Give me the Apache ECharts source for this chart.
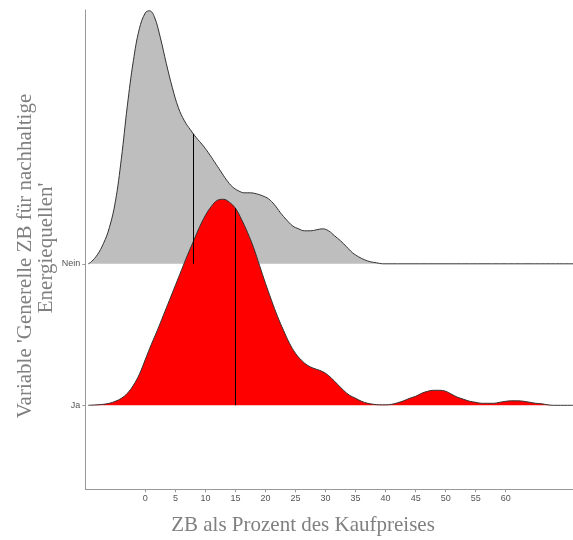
<!DOCTYPE html>
<html>
<head>
<meta charset="utf-8">
<script src="https://cdn.jsdelivr.net/npm/echarts@6/dist/echarts.min.js"></script>
<style>html,body{margin:0;padding:0;background:#fff}#c{width:573px;height:540px}</style>
</head>
<body>
<div id="c"></div>
<script>
// Categories (bottom to top)
const categories = ['Ja', 'Nein'];
// x tick labels
const xTicks = [0,5,10,15,20,25,30,35,40,45,50,55,60];
// Density ridge for "Nein" : x positions and heights (in row-spacing units * 141.5)
const neinX = [-9.5,-9,-8,-7,-6,-5,-4,-3,-2,-1,0,0.7,1.5,2.5,3.5,4.5,5.5,6.5,7.5,8.5,9.5,10.5,11.5,12.5,13.5,14.5,15.5,16.5,17.5,18.5,19.5,20.5,21.5,22.5,23.5,24.5,25.5,26.5,27.5,28.5,29.5,30.5,31.5,32.5,33.5,34.5,35.5,36.5,37.5,38.5,39.5,71.5];
const neinH = [0,2,9,20,36,62,105,158,203,235,251,253,247,226,200,176,156,143,134,126,119,111,102,93,84,77,73,71,71,70,68,65,59,51,44,38,35,33,33,34,35,33,28,23,17,11,7,4,2,1,0,0];
// Density ridge for "Ja"
const jaX = [-9.5,-8,-7,-6,-5,-4,-3,-2,-1,0,1,2,3,4,5,6,7,8,9,10,11,12,13,14,15,16,17,18,19,20,21,22,23,24,25,26,27,28,29,30,31,32,33,34,35,36,37,38,39,40,41,42,43,44,45,46,47,48,49,50,51,52,53,54,55,56,57,58,59,60,61,62,63,64,65,66,67,68,71.5];
const jaH = [0,0.5,1,2,4,7,12,20,31,46,61,75,90,105,120,135,150,164,178,190,199,205,206,203,197,186,173,158,140,122,105,89,75,62,52,45,40,37,35,32,27,21,15,10,7,4,2,1,0.5,0.5,1,2.5,4.5,7,9,12,14,15,15,14,11,8,6,4,3,2,2,2,3,4,4.5,4.5,4,3,2,1.5,0.5,0,0];
// medians
const medians = {Nein: 8.0, Ja: 15.0};

const ROW = 141.5;
function ridge(xs, hs, base){ return xs.map((x,i)=>[x, base + hs[i]/ROW]); }
function interp(xs, hs, x){
  for(let i=0;i<xs.length-1;i++){ if(x>=xs[i] && x<=xs[i+1]){ const t=(x-xs[i])/(xs[i+1]-xs[i]); return hs[i]+t*(hs[i+1]-hs[i]); } }
  return 0;
}

const chart = echarts.init(document.getElementById('c'), null, {renderer:'canvas'});
const yMin = 1 - 84/ROW;
const yMax = yMin + 479.3/ROW;

function ridgeSeries(name, xs, hs, base, color, z){
  return {
    name, type:'line', data: ridge(xs, hs, base), smooth:0.4, symbol:'none', z,
    lineStyle:{color:'#333', width:1},
    areaStyle:{color, opacity:1, origin: base},
    markLine:{
      silent:true, symbol:'none', label:{show:false},
      lineStyle:{color:'#000', width:1, type:'solid'},
      data:[[{coord:[medians[name], base]},{coord:[medians[name], base + interp(xs,hs,medians[name])/ROW]}]]
    }
  };
}

const serif = '"Liberation Serif", "Times New Roman", serif';
chart.setOption({
  animation:false,
  grid:{left:85.3, right:0, top:10, bottom:540-489.3, containLabel:false},
  xAxis:{
    type:'value', min:-10, max:(573-145.3)/6.007,
    axisLine:{show:true, onZero:false, lineStyle:{color:'#999', width:1}},
    axisTick:{show:true, length:3, customValues:xTicks, lineStyle:{color:'#999'}},
    axisLabel:{customValues:xTicks, color:'#555', fontSize:9, fontFamily:'Liberation Sans, Arial', margin:5},
    splitLine:{show:false}
  },
  yAxis:{
    type:'value', min:yMin, max:yMax,
    axisLine:{show:true, onZero:false, lineStyle:{color:'#999', width:1}},
    axisTick:{show:true, length:3, customValues:[1,2], lineStyle:{color:'#999'}},
    axisLabel:{customValues:[1,2], color:'#555', fontSize:9, fontFamily:'Liberation Sans, Arial', margin:5,
      formatter:v=> categories[Math.round(v)-1] || ''},
    splitLine:{show:false}
  },
  series:[
    ridgeSeries('Nein', neinX, neinH, 2, '#bebebe', 2),
    ridgeSeries('Ja', jaX, jaH, 1, '#ff0000', 3)
  ],
  graphic:[
    {type:'text', x:303, y:525, style:{text:'ZB als Prozent des Kaufpreises', align:'center', verticalAlign:'middle', fill:'#808080', font:'21px ' + serif}},
    {type:'text', x:25, y:256, rotation:Math.PI/2, style:{text:"Variable 'Generelle ZB für nachhaltige", align:'center', verticalAlign:'middle', fill:'#808080', font:'21px ' + serif}},
    {type:'text', x:46, y:248, rotation:Math.PI/2, style:{text:"Energiequellen'", align:'center', verticalAlign:'middle', fill:'#808080', font:'21px ' + serif}}
  ]
});
</script>
</body>
</html>
